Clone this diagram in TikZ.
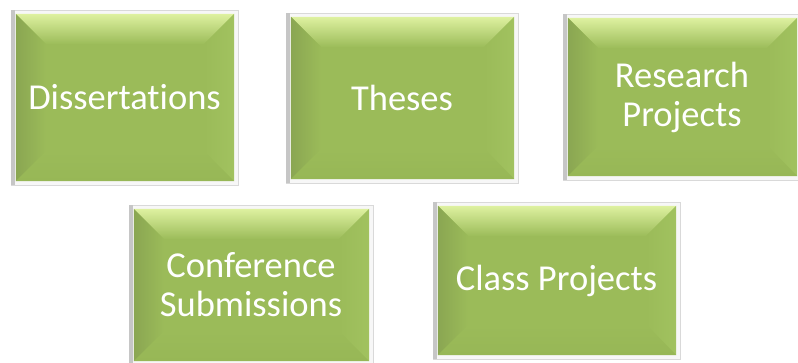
\documentclass[tikz,border=0pt]{standalone}
\usepackage{fontspec}
\setmainfont[Ligatures=NoCommon,Contextuals=NoAlternate,RawFeature={-liga;-clig;-calt;-dlig}]{Carlito}
\usepackage{tikz}
\usetikzlibrary{calc,backgrounds}
\definecolor{leafgreen}{RGB}{155,187,89}
\definecolor{leaftop}{RGB}{222,241,160}
\definecolor{leafdark}{RGB}{138,166,82}
\definecolor{leaflight}{RGB}{161,194,95}
\definecolor{leafbottom}{RGB}{151,183,86}

\tikzset{
  slab/.style 2 args={minimum width=#1, minimum height=#2, inner sep=0pt,
    text=white, align=center, font=\fontsize{36.5}{39}\selectfont}
}

\newcommand{\bevel}[1]{%
  \begin{scope}[on background layer]
    \fill[gray!6] (#1.north west) rectangle (#1.south east);
    \draw[gray!30] (#1.north west) rectangle (#1.south east);
    \fill[gray!45] (#1.north west) rectangle ($(#1.south west)+(4,0)$);
    \coordinate (aa) at ($(#1.north west)+(5,4)$);
    \coordinate (bb) at ($(#1.north east)+(-4,4)$);
    \coordinate (cc) at ($(#1.south east)+(-4,-4)$);
    \coordinate (dd) at ($(#1.south west)+(5,-4)$);
    \coordinate (ai) at ($(aa)+(30,30)$);
    \coordinate (bi) at ($(bb)+(-30,30)$);
    \coordinate (ci) at ($(cc)+(-30,-30)$);
    \coordinate (di) at ($(dd)+(30,-30)$);
    \fill[leafgreen] (aa) rectangle (cc);
    \shade[top color=leaftop, bottom color=leafgreen!80!leaflight] (aa) -- (bb) -- (bi) -- (ai) -- cycle;
    \shade[left color=leafdark, right color=leafgreen] (aa) -- (ai) -- (di) -- (dd) -- cycle;
    \shade[left color=leafgreen, right color=leaflight] (bb) -- (bi) -- (ci) -- (cc) -- cycle;
    \shade[top color=leafgreen, bottom color=leafbottom] (dd) -- (di) -- (ci) -- (cc) -- cycle;
  \end{scope}}

\begin{document}
\begin{tikzpicture}[x=1pt,y=-1pt]
  \useasboundingbox (0,0) rectangle (798,362);
  \node[slab={227pt}{175pt}] (diss) at (124.5,97.5) {Dissertations};
  \node[slab={232pt}{170pt}] (theses) at (402,98) {Theses};
  \node[slab={238pt}{166pt}] (research) at (682,97) {Research\\Projects};
  \node[slab={244pt}{160pt}] (conf) at (251,285) {Conference\\Submissions};
  \node[slab={247pt}{157pt}] (classp) at (556.5,280.5) {Class Projects};
  \bevel{diss}
  \bevel{theses}
  \bevel{research}
  \bevel{conf}
  \bevel{classp}
\end{tikzpicture}
\end{document}
